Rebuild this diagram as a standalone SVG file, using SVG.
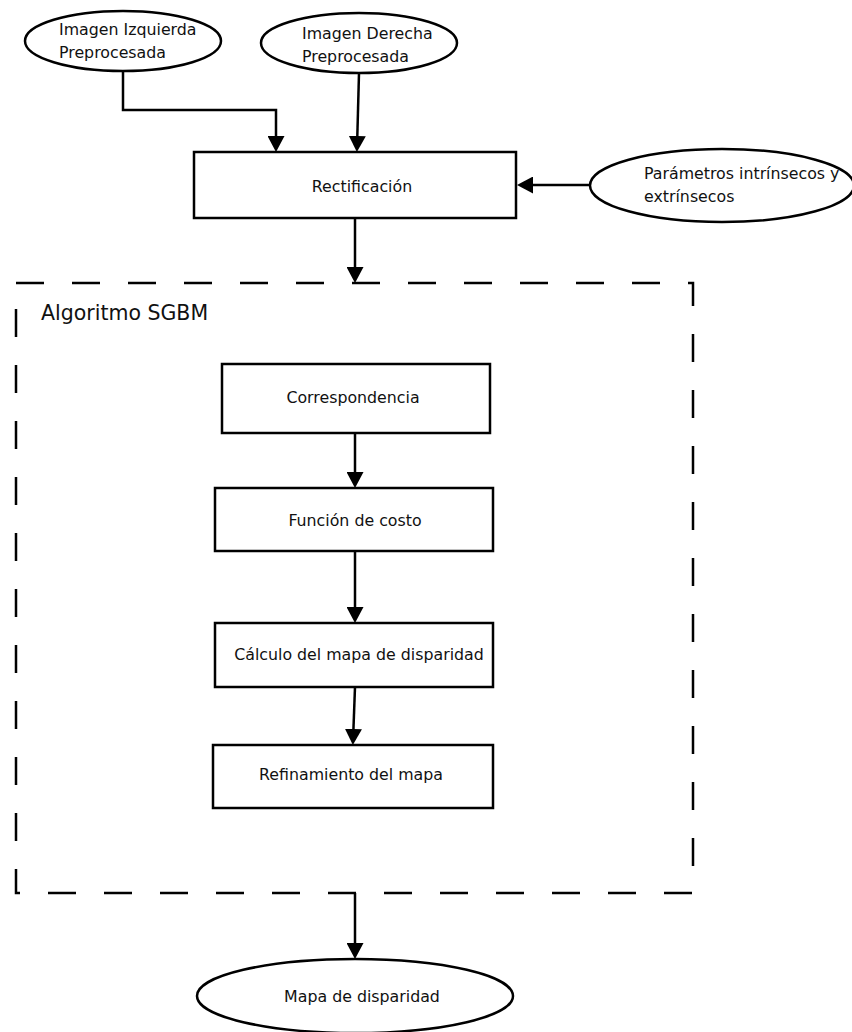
<svg xmlns="http://www.w3.org/2000/svg" width="852" height="1032" viewBox="0 0 852 1032">
<style>
.n{fill:#fff;stroke:#000;stroke-width:2.5}
.c{fill:none;stroke:#000;stroke-width:2.5}
.t{font-family:"DejaVu Sans",Verdana,sans-serif;font-size:15.8px;fill:#111}
.tm{text-anchor:middle}
.grp{fill:none;stroke:#000;stroke-width:2.5;stroke-dasharray:28 28}
</style>
<defs>
<marker id="ah" markerUnits="userSpaceOnUse" markerWidth="17" markerHeight="17" refX="12" refY="8.5" orient="auto" viewBox="0 0 17 17">
<path d="M0,0 L16,8.5 L0,17 z" fill="#000"/>
</marker>
</defs>
<rect width="852" height="1032" fill="#fff"/>

<g id="group-sgbm">
<rect class="grp" x="16" y="283" width="677" height="610"/>
<text class="t" x="41" y="320" style="font-size:20.5px">Algoritmo SGBM</text>
</g>

<g id="connectors">
<path class="c" d="M123,71 V110 H276 V148" marker-end="url(#ah)"/>
<path class="c" d="M359,73 L357,148" marker-end="url(#ah)"/>
<path class="c" d="M590,185 H521" marker-end="url(#ah)"/>
<path class="c" d="M355,218 V279" marker-end="url(#ah)"/>
<path class="c" d="M355,433 V484" marker-end="url(#ah)"/>
<path class="c" d="M355,551 V619" marker-end="url(#ah)"/>
<path class="c" d="M355,687 L353,741" marker-end="url(#ah)"/>
<path class="c" d="M355,893 V955" marker-end="url(#ah)"/>
</g>

<g id="n-izq">
<ellipse class="n" cx="123" cy="41" rx="98" ry="30"/>
<text class="t" x="59" y="35">Imagen Izquierda</text>
<text class="t" x="59" y="58">Preprocesada</text>
</g>

<g id="n-der">
<ellipse class="n" cx="359" cy="43" rx="98" ry="30"/>
<text class="t" x="302" y="39">Imagen Derecha</text>
<text class="t" x="302" y="62">Preprocesada</text>
</g>

<g id="n-param">
<ellipse class="n" cx="722" cy="185.5" rx="132" ry="36.5"/>
<text class="t" x="644" y="179">Parámetros intrínsecos y</text>
<text class="t" x="644" y="202">extrínsecos</text>
</g>

<g id="n-rect">
<rect class="n" x="194" y="152" width="322" height="66"/>
<text class="t tm" x="362" y="192">Rectificación</text>
</g>

<g id="n-corr">
<rect class="n" x="222" y="364" width="268" height="69"/>
<text class="t tm" x="353" y="403">Correspondencia</text>
</g>

<g id="n-func">
<rect class="n" x="215" y="488" width="278" height="63"/>
<text class="t tm" x="355" y="526">Función de costo</text>
</g>

<g id="n-calc">
<rect class="n" x="215" y="623" width="278" height="64"/>
<text class="t tm" x="359" y="660">Cálculo del mapa de disparidad</text>
</g>

<g id="n-ref">
<rect class="n" x="213" y="745" width="280" height="63"/>
<text class="t tm" x="351" y="780">Refinamiento del mapa</text>
</g>

<g id="n-mapa">
<ellipse class="n" cx="355" cy="996" rx="158" ry="37"/>
<text class="t tm" x="362" y="1002">Mapa de disparidad</text>
</g>
</svg>
